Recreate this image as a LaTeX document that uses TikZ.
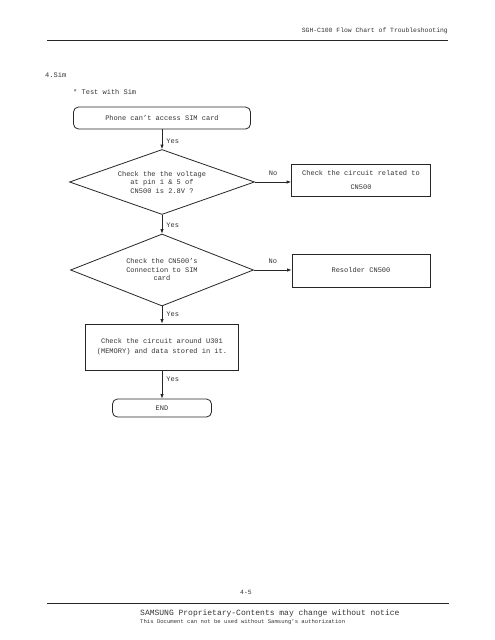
\documentclass[tikz,border=0pt]{standalone}
\usepackage{fontspec}
\setmainfont{Liberation Mono}
\usetikzlibrary{shapes.geometric,arrows.meta}
\tikzset{
  lbl/.style={inner sep=0pt,text=black!80,font=\fontsize{7}{9}\selectfont},
  stepbox/.style={draw=black!85,line width=0.8pt,align=center,inner sep=0pt,text=black!80,font=\fontsize{7}{10}\selectfont},
  termbox/.style={stepbox,rounded corners=5pt},
  decbox/.style={stepbox,diamond,aspect=2.8,font=\fontsize{7}{8.5}\selectfont},
  flow/.style={draw=black!85,line width=0.8pt,-{Latex[length=4.5pt,width=3.5pt]}},
  yeslbl/.style={lbl,anchor=west,xshift=4pt},
}
\begin{document}
\begin{tikzpicture}[x=1pt,y=-1pt]
\useasboundingbox[fill=white] (0,0) rectangle (495,640);
% header
\node[lbl,anchor=east,font=\fontsize{6.4}{8}\selectfont] (hdr) at (448,31) {SGH-C100 Flow Chart of Troubleshooting};
\coordinate (hl1) at (47,40); \coordinate (hl2) at (448,40);
\draw[line width=0.9pt,black!85] (hl1) -- (hl2);
\node[lbl,anchor=west] (sec) at (45,75) {4.Sim};
\node[lbl,anchor=west] (sub) at (73,92) {* Test with Sim};
% flow
\node[termbox,minimum width=177pt,minimum height=22pt] (start) at (162,118) {Phone can't access SIM card};
\node[decbox,minimum width=185pt,minimum height=65pt] (d1) at (162,182) {Check the the voltage\\at pin 1 \& 5 of\\CN500 is 2.8V ?};
\node[stepbox,minimum width=139pt,minimum height=32pt,font=\fontsize{7}{14}\selectfont] (b1) at (361,180) {Check the circuit related to\\CN500};
\node[decbox,minimum width=183pt,minimum height=72pt] (d2) at (162,270) {Check the CN500's\\Connection to SIM\\card};
\node[stepbox,minimum width=138pt,minimum height=33pt] (b2) at (361,270.5) {Resolder CN500};
\node[stepbox,minimum width=153pt,minimum height=46pt] (b3) at (162,347) {Check the circuit around U301\\(MEMORY) and data stored in it.};
\node[termbox,minimum width=99pt,minimum height=18pt] (end) at (162,408) {END};
\draw[flow] (start) -- node[yeslbl,pos=0.62]{Yes} (d1);
\draw[flow] (d1) -- node[yeslbl,pos=0.55]{Yes} (d2);
\draw[flow] (d2) -- node[yeslbl,pos=0.45]{Yes} (b3);
\draw[flow] (b3) -- node[yeslbl,pos=0.3]{Yes} (end);
\draw[flow] (d1.east) -- node[lbl,above=6pt]{No} (b1.west |- d1.east);
\draw[flow] (d2.east) -- node[lbl,above=6pt]{No} (b2.west |- d2.east);
% footer
\node[lbl,font=\fontsize{6.4}{8}\selectfont] (pg) at (246,592) {4-5};
\coordinate (fl1) at (47,603); \coordinate (fl2) at (449,603);
\draw[line width=0.9pt,black!85] (fl1) -- (fl2);
\node[lbl,anchor=west,font=\fontsize{8}{10}\selectfont] (ft1) at (140,613) {SAMSUNG Proprietary-Contents may change without notice};
\node[lbl,anchor=west,font=\fontsize{5.6}{7}\selectfont] (ft2) at (140,622) {This Document can not be used without Samsung's authorization};
\end{tikzpicture}
\end{document}
